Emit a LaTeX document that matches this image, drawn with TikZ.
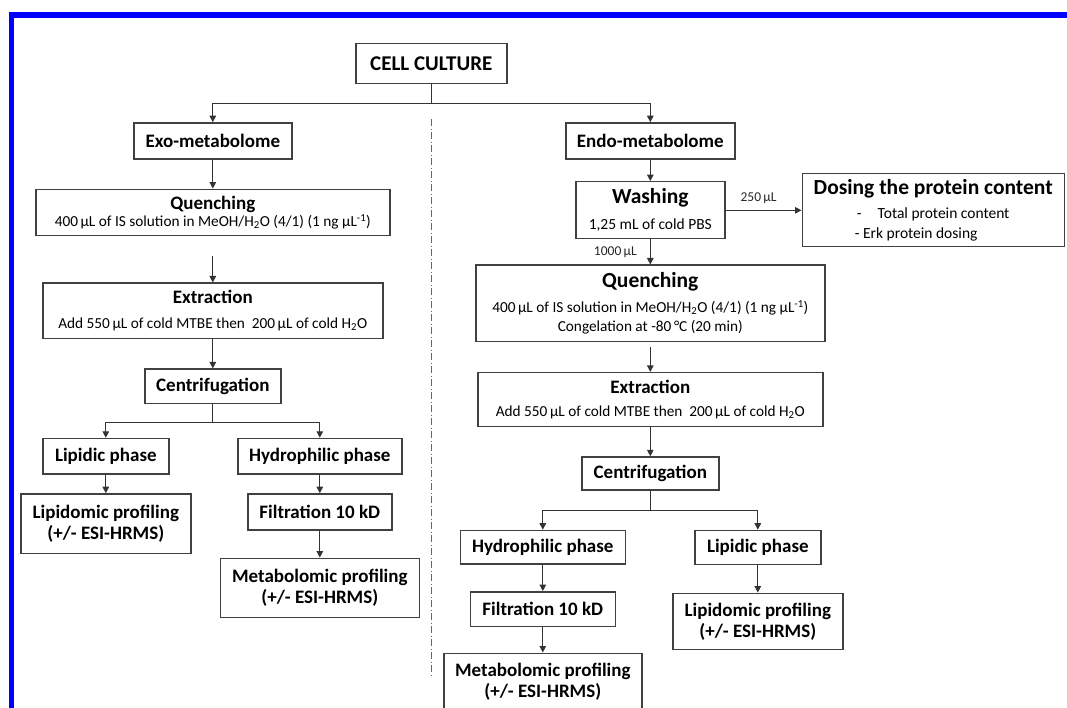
\documentclass[tikz,border=0pt]{standalone}
\usepackage{fontspec}
\setmainfont{Carlito}
\usepackage{tikz}
\usetikzlibrary{positioning,arrows.meta}
\tikzset{
  proc/.style={draw=black!75, line width=1.4pt, inner sep=0pt, align=center, text=black,
    font=\fontsize{19}{21}\selectfont\bfseries},
  bigproc/.style={proc, font=\fontsize{21.5}{24}\selectfont\bfseries},
  arr/.style={-{Triangle[length=6.5pt,width=6.5pt]}, line width=1.2pt, draw=black!80},
  wire/.style={line width=1.2pt, draw=black!80},
  divider/.style={black!60, line width=1.1pt, dash pattern=on 7pt off 2.5pt on 1pt off 2.5pt},
  qty/.style={font=\fontsize{13.5}{15}\selectfont, text=black!85, inner sep=1pt}
}
\newcommand{\detail}[1]{{\fontsize{15.3}{17.5}\selectfont\mdseries #1}}
\newcommand{\detailwide}[1]{{\fontsize{15.5}{18}\selectfont\mdseries #1}}

\begin{document}
\begin{tikzpicture}[x=1pt,y=1pt]
\useasboundingbox (0,0) rectangle (1067,-708);
% frame
\fill[blue] (8.5,-12.5) rectangle (1067,-18);
\fill[blue] (8.5,-12.5) rectangle (14,-708);

\node[proc, font=\fontsize{21}{24}\selectfont\bfseries, minimum width=151pt, minimum height=40pt] (cell) at (431.3,-63.7) {CELL CULTURE};
\coordinate[below=19.5pt of cell] (fork_top);
\coordinate[below=35pt of cell] (div_top);
\coordinate[below=593pt of cell] (div_bot);

% exo-metabolome
\node[proc, minimum width=158pt, minimum height=36pt] (exo) [below=37.8pt of cell, xshift=-218.5pt] {Exo-metabolome};
\node[proc, minimum width=354pt, minimum height=46.5pt] (quench_l) [below=29pt of exo] {Quenching\\[-4pt]\detail{400\,µL of IS solution in MeOH/H\textsubscript{2}O (4/1) (1 ng µL\textsuperscript{-1})}};
\coordinate[below=20pt of quench_l] (ql_out);
\node[proc, minimum width=340pt, minimum height=55pt] (extract_l) [below=46pt of quench_l] {Extraction\\[3.5pt]\detail{Add 550\,µL of cold MTBE then\ \ 200\,µL of cold H\textsubscript{2}O}};
\node[proc, minimum width=136pt, minimum height=34.5pt] (centrif_l) [below=29.5pt of extract_l] {Centrifugation};
\coordinate[below=18pt of centrif_l] (fork_l);
\node[proc, minimum width=126pt, minimum height=35.5pt] (lipid_l) [below=33.5pt of centrif_l, xshift=-107pt] {Lipidic phase};
\node[proc, minimum width=164pt, minimum height=35.5pt] (hydro_l) [below=33.5pt of centrif_l, xshift=107pt] {Hydrophilic phase};
\node[proc, minimum width=170pt, minimum height=59.5pt] (lipidom_l) [below=18.5pt of lipid_l] {Lipidomic profiling\\(+/- ESI-HRMS)};
\node[proc, minimum width=144pt, minimum height=36pt] (filt_l) [below=18.5pt of hydro_l] {Filtration 10 kD};
\node[proc, minimum width=199pt, minimum height=59pt] (metab_l) [below=27pt of filt_l] {Metabolomic profiling\\(+/- ESI-HRMS)};

% endo-metabolome
\node[proc, minimum width=169pt, minimum height=36pt] (endo) [below=37.8pt of cell, xshift=219pt] {Endo-metabolome};
\node[bigproc, minimum width=149pt, minimum height=57pt] (wash) [below=21.5pt of endo] {Washing\\[2pt]\detailwide{1,25 mL of cold PBS}};
\node[bigproc, minimum width=262pt, minimum height=73pt] (dosing) [right=76pt of wash] {Dosing the protein content\\[-0.5pt]\detailwide{-\hspace{16pt}Total protein content}\\[-4pt]\detailwide{- Erk protein dosing\hspace*{34pt}}};
\node[bigproc, minimum width=349pt, minimum height=76pt] (quench_r) [below=25pt of wash] {Quenching\\[1pt]\detail{400\,µL of IS solution in MeOH/H\textsubscript{2}O (4/1) (1 ng µL\textsuperscript{-1})}\\[-5pt]\detail{Congelation at -80\,°C (20 min)}};
\coordinate[below=5pt of quench_r] (qr_out);
\node[proc, minimum width=345pt, minimum height=54pt] (extract_r) [below=30pt of quench_r] {Extraction\\[2pt]\detail{Add 550\,µL of cold MTBE then\ \ 200\,µL of cold H\textsubscript{2}O}};
\node[proc, minimum width=137pt, minimum height=33pt] (centrif_r) [below=29pt of extract_r] {Centrifugation};
\coordinate[below=19.5pt of centrif_r] (fork_r);
\node[proc, minimum width=165pt, minimum height=33.5pt] (hydro_r) [below=39pt of centrif_r, xshift=-107.5pt] {Hydrophilic phase};
\node[proc, minimum width=126pt, minimum height=34pt] (lipid_r) [below=39pt of centrif_r, xshift=107.5pt] {Lipidic phase};
\node[proc, minimum width=145pt, minimum height=34.5pt] (filt_r) [below=26.5pt of hydro_r] {Filtration 10 kD};
\node[proc, minimum width=198pt, minimum height=57pt] (metab_r) [below=25.5pt of filt_r] {Metabolomic profiling\\(+/- ESI-HRMS)};
\node[proc, minimum width=170pt, minimum height=56pt] (lipidom_r) [below=27.5pt of lipid_r] {Lipidomic profiling\\(+/- ESI-HRMS)};

% connectors
\draw[wire] (cell) -- (fork_top);
\draw[arr] (fork_top) -| (exo);
\draw[arr] (fork_top) -| (endo);
\draw[divider] (div_top) -- (div_bot);
\draw[arr] (exo) -- (quench_l);
\draw[arr] (ql_out) -- (extract_l);
\draw[arr] (extract_l) -- (centrif_l);
\draw[wire] (centrif_l) -- (fork_l);
\draw[arr] (fork_l) -| (lipid_l);
\draw[arr] (fork_l) -| (hydro_l);
\draw[arr] (lipid_l) -- (lipidom_l);
\draw[arr] (hydro_l) -- (filt_l);
\draw[arr] (filt_l) -- (metab_l);
\draw[arr] (endo) -- (wash);
\draw[arr] (wash) -- node[qty, above=5pt, xshift=-5pt] {250\,µL} (dosing);
\draw[arr] (wash) -- node[qty, left=12pt] {1000\,µL} (quench_r);
\draw[arr] (qr_out) -- (extract_r);
\draw[arr] (extract_r) -- (centrif_r);
\draw[wire] (centrif_r) -- (fork_r);
\draw[arr] (fork_r) -| (hydro_r);
\draw[arr] (fork_r) -| (lipid_r);
\draw[arr] (hydro_r) -- (filt_r);
\draw[arr] (filt_r) -- (metab_r);
\draw[arr] (lipid_r) -- (lipidom_r);
\end{tikzpicture}
\end{document}
